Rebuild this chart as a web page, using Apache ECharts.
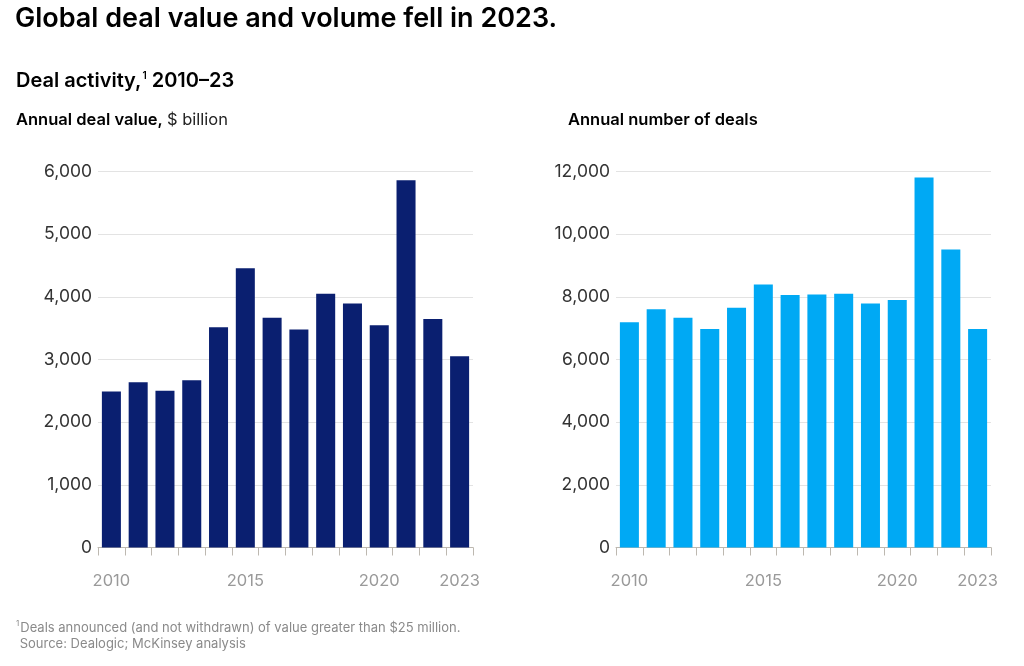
<!DOCTYPE html>
<html>
<head>
<meta charset="utf-8">
<script src="https://cdn.jsdelivr.net/npm/echarts@6/dist/echarts.min.js"></script>
<style>
html,body{margin:0;padding:0;background:#fff;}
#c{width:1024px;height:666px;}
</style>
</head>
<body>
<div id="c"></div>
<script>
const years = ['2010','2011','2012','2013','2014','2015','2016','2017','2018','2019','2020','2021','2022','2023'];
const dealValue = [2490, 2635, 2500, 2670, 3515, 4455, 3665, 3480, 4050, 3895, 3545, 5860, 3645, 3050];
const dealCount = [7190, 7605, 7330, 6970, 7650, 8395, 8055, 8075, 8095, 7790, 7895, 11810, 9510, 6970];
const valueTicks = [0, 1000, 2000, 3000, 4000, 5000, 6000];
const countTicks = [0, 2000, 4000, 6000, 8000, 10000, 12000];
const shownYears = ['2010','2015','2020','2023'];

const FONT = 'Inter, "Noto Sans", Roboto, sans-serif';
const chart = echarts.init(document.getElementById('c'), null, {renderer: 'canvas'});

function fmt(v){ return v.toLocaleString('en-US'); }

function xAxis(gridIndex){
  return {
    type: 'category', gridIndex, data: years,
    boundaryGap: true,
    axisLine: {show: true, lineStyle: {color: '#bdb8b0', width: 1}},
    axisTick: {show: true, interval: 0, length: 8, lineStyle: {color: '#bdb8b0'}},
    axisLabel: {
      interval: (i, v) => shownYears.indexOf(v) >= 0,
      color: '#9a9a9a', fontSize: 16.5, fontFamily: FONT, margin: 25
    }
  };
}
function yAxis(gridIndex, ticks){
  return {
    type: 'value', gridIndex,
    min: ticks[0], max: ticks[ticks.length-1], interval: ticks[1]-ticks[0],
    axisLine: {show: false}, axisTick: {show: false},
    splitLine: {show: true, lineStyle: {color: '#e3e3e3', width: 1}},
    axisLabel: {color: '#333', fontSize: 17.5, fontFamily: FONT, margin: 6, formatter: fmt}
  };
}

chart.setOption({
  animation: false,
  textStyle: {fontFamily: FONT},
  title: [
    {text: 'Global deal value and volume fell in 2023.', left: 15, top: 5, padding: 0,
     textStyle: {fontSize: 27, fontWeight: 600, color: '#000', fontFamily: FONT}},
    {text: '{m|Deal activity,}{s|1}{m| 2010–23}', left: 16, top: 71, padding: 0,
     textStyle: {rich: {
       m: {fontSize: 20, fontWeight: 600, color: '#000', fontFamily: FONT},
       s: {fontSize: 10, fontWeight: 600, color: '#000', verticalAlign: 'top', padding: [0,0,9,1], fontFamily: FONT}}}},
    {text: '{b|Annual deal value, }{r|$ billion}', left: 16, top: 112, padding: 0,
     textStyle: {rich: {
       b: {fontSize: 16.5, fontWeight: 600, color: '#000', fontFamily: FONT},
       r: {fontSize: 16.5, fontWeight: 400, color: '#222', fontFamily: FONT}}}},
    {text: 'Annual number of deals', left: 568, top: 112, padding: 0,
     textStyle: {fontSize: 16.5, fontWeight: 600, color: '#000', fontFamily: FONT}},
    {text: '{s|1}{t|Deals announced (and not withdrawn) of value greater than $25 million.}\n{t| Source: Dealogic; McKinsey analysis}',
     left: 16, top: 620, padding: 0,
     textStyle: {rich: {
       s: {fontSize: 8, fontWeight: 400, color: '#8a8a8a', verticalAlign: 'top', fontFamily: FONT, padding: [0,1,6,0]},
       t: {fontSize: 13, fontWeight: 400, color: '#8a8a8a', fontFamily: FONT, lineHeight: 16}}}}
  ],
  grid: [
    {left: 98, right: 551, top: 171.5, bottom: 118.5, containLabel: false},
    {left: 616, right: 33, top: 171.5, bottom: 118.5, containLabel: false}
  ],
  xAxis: [xAxis(0), xAxis(1)],
  yAxis: [yAxis(0, valueTicks), yAxis(1, countTicks)],
  series: [
    {type: 'bar', name: 'Annual deal value', xAxisIndex: 0, yAxisIndex: 0, data: dealValue,
     barCategoryGap: '29%', itemStyle: {color: '#0a1f70'}},
    {type: 'bar', name: 'Annual number of deals', xAxisIndex: 1, yAxisIndex: 1, data: dealCount,
     barCategoryGap: '29%', itemStyle: {color: '#00a9f4'}}
  ]
});
</script>
</body>
</html>
